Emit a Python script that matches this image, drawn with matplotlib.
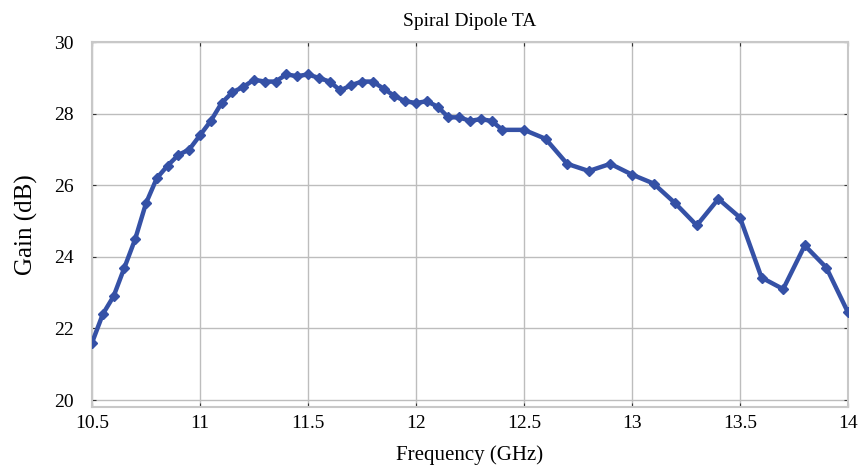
import matplotlib
matplotlib.use("Agg")
import matplotlib.pyplot as plt
import numpy as np

plt.rcParams['font.family'] = ['Liberation Serif', 'DejaVu Serif']

# frequency (GHz) and gain (dB)
freq = [10.5, 10.55, 10.6, 10.65, 10.7, 10.75, 10.8, 10.85, 10.9, 10.95,
        11.0, 11.05, 11.1, 11.15, 11.2, 11.25, 11.3, 11.35, 11.4, 11.45,
        11.5, 11.55, 11.6, 11.65, 11.7, 11.75, 11.8, 11.85, 11.9, 11.95,
        12.0, 12.05, 12.1, 12.15, 12.2, 12.25, 12.3, 12.35, 12.4,
        12.5, 12.6, 12.7, 12.8, 12.9, 13.0, 13.1, 13.2, 13.3, 13.4,
        13.5, 13.6, 13.7, 13.8, 13.9, 14.0]
gain = [21.6, 22.4, 22.9, 23.7, 24.5, 25.5, 26.2, 26.55, 26.85, 27.0,
        27.4, 27.8, 28.3, 28.6, 28.75, 28.95, 28.9, 28.9, 29.1, 29.05,
        29.1, 29.0, 28.9, 28.65, 28.8, 28.9, 28.9, 28.7, 28.5, 28.35,
        28.3, 28.35, 28.2, 27.9, 27.9, 27.8, 27.85, 27.8, 27.55,
        27.55, 27.3, 26.6, 26.4, 26.6, 26.3, 26.05, 25.5, 24.88, 25.62,
        25.1, 23.42, 23.1, 24.32, 23.7, 22.45]

xticks = [10.5, 11, 11.5, 12, 12.5, 13, 13.5, 14]
xticklabels = ['10.5', '11', '11.5', '12', '12.5', '13', '13.5', '14']
yticks = [20, 22, 24, 26, 28, 30]

fig = plt.figure(figsize=(8.6, 4.74), dpi=100)
ax = fig.add_axes([0.107, 0.141, 0.879, 0.77])

ax.plot(freq, gain, color='#3551a6', lw=3.2, marker='D', ms=5,
        markeredgecolor='#3551a6', zorder=3)

ax.set_xlim(10.5, 14)
ax.set_ylim(19.8, 30)
ax.set_xticks(xticks)
ax.set_xticklabels(xticklabels)
ax.set_yticks(yticks)
ax.grid(True, color='#bdbdbd', lw=1)
ax.set_axisbelow(True)
for s in ax.spines.values():
    s.set_color('#c8c8c8')
    s.set_linewidth(1.5)
ax.tick_params(direction='in', length=3, width=0.8, color='#333333',
               top=True, right=True, labelsize=14)
ax.tick_params(axis='x', pad=6)
ax.tick_params(axis='y', pad=13)

ax.set_title('Spiral Dipole TA', fontsize=14, pad=12)
ax.set_xlabel('Frequency (GHz)', fontsize=15, labelpad=9)
ax.set_ylabel('Gain (dB)', fontsize=18, labelpad=12)

fig.savefig('out.png', dpi=100)
